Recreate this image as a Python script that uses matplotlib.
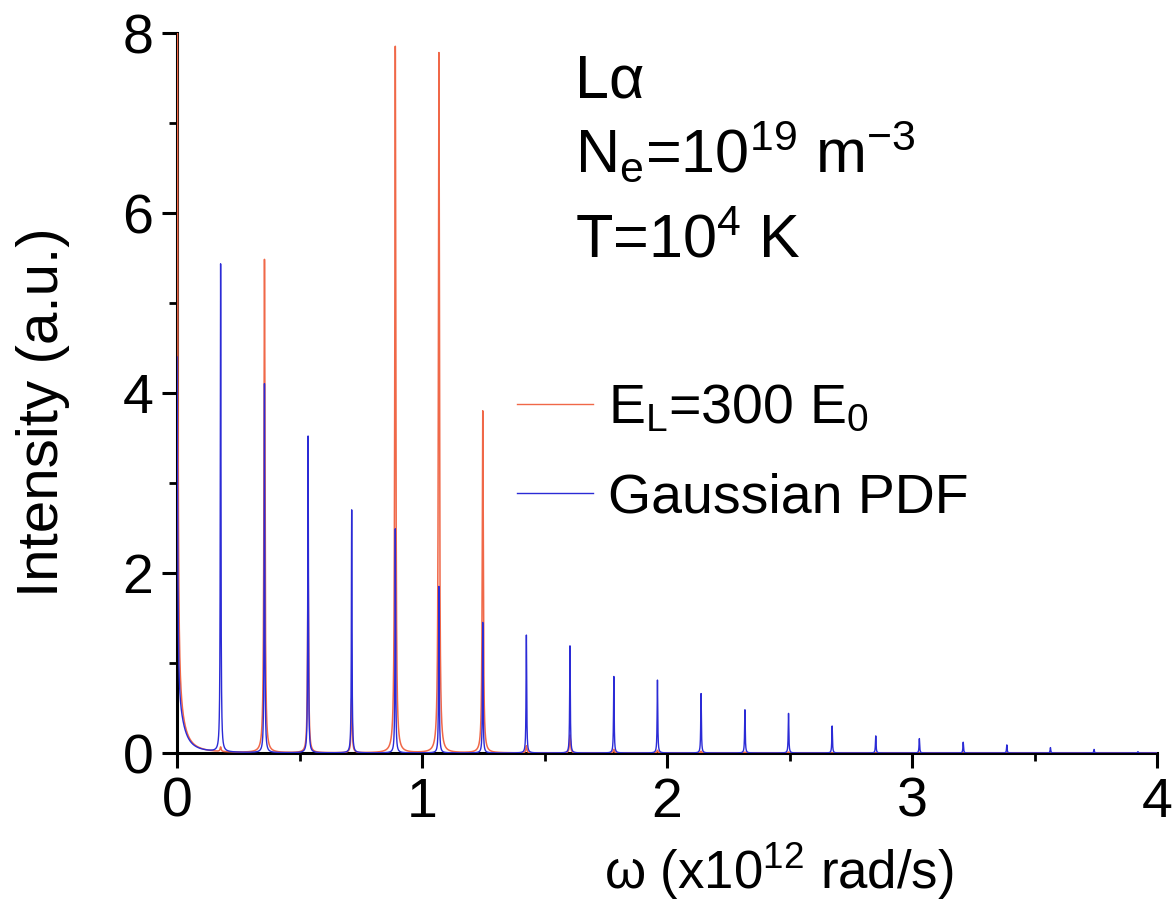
import numpy as np
import matplotlib
matplotlib.use('Agg')
import matplotlib.pyplot as plt
from matplotlib.ticker import MultipleLocator

plt.rcParams['font.family'] = ['Liberation Sans', 'DejaVu Sans']
plt.rcParams['mathtext.fontset'] = 'custom'
plt.rcParams['mathtext.rm'] = 'Liberation Sans'
plt.rcParams['mathtext.it'] = 'Liberation Sans:italic'
plt.rcParams['mathtext.default'] = 'regular'

# satellite peak positions (x10^12 rad/s)
peak_pos = [0.178, 0.357, 0.535, 0.713, 0.891, 1.069, 1.248, 1.426, 1.604, 1.783, 1.961,
            2.139, 2.318, 2.496, 2.674, 2.852, 3.030, 3.209, 3.387, 3.565, 3.743, 3.922]
# peak heights
laser_h = [0.05, 5.48, 2.10, 0.60, 7.85, 7.78, 3.80, 0.08, 0.20, 0.04, 0.03,
           0.02, 0.01, 0.01, 0.0, 0.0, 0.0, 0.0, 0.0, 0.0, 0.0, 0.0]
gauss_h = [5.42, 4.10, 3.52, 2.70, 2.49, 1.85, 1.45, 1.31, 1.19, 0.85, 0.81,
           0.66, 0.48, 0.44, 0.30, 0.19, 0.16, 0.12, 0.09, 0.06, 0.04, 0.015]
# central component (height at w=0)
laser_c = 10.0
gauss_c = 3.9

w = np.linspace(0, 4, 40001)


def profile(center_h, heights, gam):
    # narrow + broad central part, lorentzian satellites
    y = center_h * 0.003**2 / (w**2 + 0.003**2) + 0.5 * 0.03**2 / (w**2 + 0.03**2)
    for p, h in zip(peak_pos, heights):
        y = y + h * gam**2 / ((w - p)**2 + gam**2)
    return y


laser = profile(laser_c, laser_h, 0.0025)
gauss = profile(gauss_c, gauss_h, 0.0015)

fig = plt.figure(figsize=(11.72, 9), dpi=100)
ax = fig.add_axes([177/1172, 1-753/900, 980/1172, 720/900])

ax.plot(w, laser, color='#f06848', lw=1.1, label='E$_\\mathrm{L}$=300 E$_0$', zorder=3)
ax.plot(w, gauss, color='#2b2bd6', lw=1.0, label='Gaussian PDF', zorder=4)

ax.set_xlim(0, 4)
ax.set_ylim(0, 8)
ax.xaxis.set_major_locator(MultipleLocator(1))
ax.xaxis.set_minor_locator(MultipleLocator(0.5))
ax.yaxis.set_major_locator(MultipleLocator(2))
ax.yaxis.set_minor_locator(MultipleLocator(1))
ax.tick_params(which='major', direction='out', length=11, width=2.2, labelsize=40, pad=6)
ax.tick_params(which='minor', direction='out', length=6, width=2.0)
for s in ['top', 'right']:
    ax.spines[s].set_visible(False)
for s in ['left', 'bottom']:
    ax.spines[s].set_linewidth(2.2)

ax.set_ylabel('Intensity (a.u.)', fontsize=42)
ax.yaxis.set_label_coords(-0.109, 0.474)
ax.set_xlabel('\u03c9 (x10$^{12}$ rad/s)', fontsize=38)
ax.xaxis.set_label_coords(0.614, -0.122)

ax.text(0.406, 0.911, 'L\u03b1', transform=ax.transAxes, fontsize=44, va='baseline')
ax.text(0.406, 0.806, 'N$_e$=10$^{19}$ m$^{-3}$', transform=ax.transAxes, fontsize=44, va='baseline')
ax.text(0.406, 0.6875, 'T=10$^4$ K', transform=ax.transAxes, fontsize=44, va='baseline')

leg = ax.legend(loc='upper left', bbox_to_anchor=(0.347, 0.513), frameon=False, fontsize=40,
                handlelength=1.37, handletextpad=0.27, labelspacing=0.67, borderpad=0, borderaxespad=0)
for h in leg.get_lines():
    h.set_linewidth(1.0)

plt.savefig('out.png', dpi=100)
plt.close()
